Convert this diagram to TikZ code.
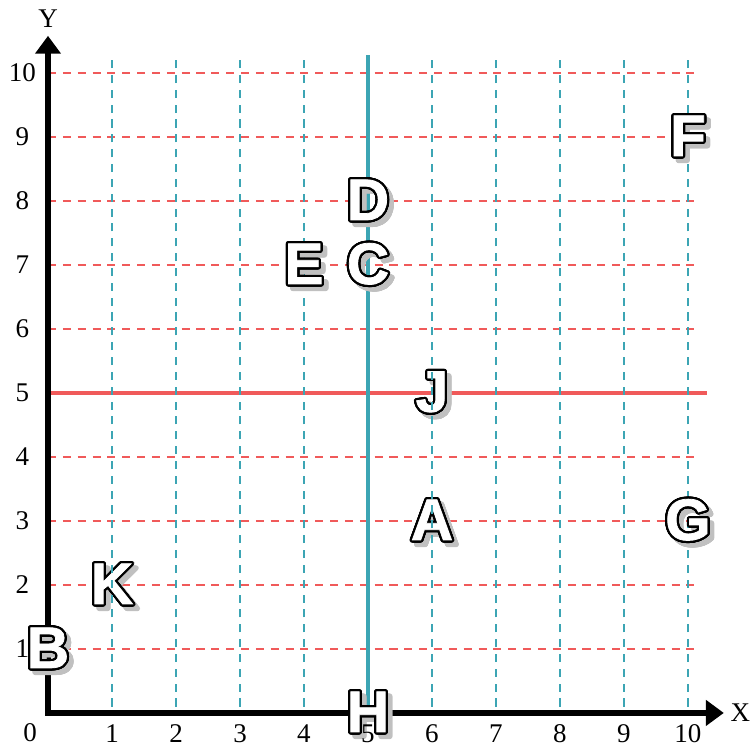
\documentclass[tikz,border=0pt]{standalone}
\usepackage{fontspec}
\setmainfont{Liberation Serif}
\newfontfamily\letterfont{Liberation Sans Bold}[FakeBold=1.3]
\usepackage{contour}
\contourlength{1pt}
\contournumber{24}
\usetikzlibrary{arrows.meta}
\definecolor{gridred}{HTML}{F05A5A}
\definecolor{gridteal}{HTML}{3CA5B4}
\definecolor{shadowgray}{HTML}{C0C0C0}
\tikzset{
  hgrid/.style={draw=gridred, line width=0.7pt, dash pattern=on 3.6pt off 3pt},
  vgrid/.style={draw=gridteal, line width=0.7pt, dash pattern=on 3.6pt off 3pt},
  hsolid/.style={draw=gridred, line width=1.4pt},
  vsolid/.style={draw=gridteal, line width=1.4pt},
  axisline/.style={draw=black, line width=2.7pt, miter limit=10,
    {Triangle[length=0.28cm,width=0.39cm]}-{Triangle[length=0.28cm,width=0.39cm]}},
  letterbox/.style={font=\letterfont\fontsize{26}{26}\selectfont, inner sep=0pt},
  ticklabel/.style={font=\fontsize{12}{14}\selectfont, inner sep=0pt},
}
\newcommand\bigletter[3]{%
  \node[letterbox, xshift=2pt, yshift=-2pt] (#1s) at (#2) {\contour{shadowgray}{\textcolor{shadowgray}{#3}}};
  \node[letterbox] (#1) at (#2) {\contour{black}{\textcolor{white}{#3}}};
}
\begin{document}
\begin{tikzpicture}
\useasboundingbox (-0.75,-0.531) rectangle (11.016,11.14);
% horizontal grid
\foreach \y in {1,2,3,4,6,7,8,9,10} {
  \coordinate (hl\y) at (0,\y);
  \coordinate (hr\y) at (10.17,\y);
  \draw[hgrid] (hl\y) -- (hr\y);
}
\coordinate (hl5) at (0,5);
\coordinate (hr5) at (10.3,5);
\draw[hsolid] (hl5) -- (hr5);
% letters under vertical lines
\bigletter{K}{1,2}{K}
\bigletter{J}{6,5}{J}
\bigletter{A}{6,3}{A}
% vertical grid
\foreach \x in {1,2,3,4,6,7,8,9,10} {
  \coordinate (vb\x) at (\x,0.1);
  \coordinate (vt\x) at (\x,10.28);
  \draw[vgrid] (vb\x) -- (vt\x);
}
\coordinate (vb5) at (5,0);
\coordinate (vt5) at (5,10.28);
\draw[vsolid] (vb5) -- (vt5);
% axes
\coordinate (O) at (0,0);
\coordinate (ytip) at (0,10.58);
\coordinate (xtip) at (10.56,0);
\draw[axisline] (ytip) -- (O) -- (xtip);
% other letters
\bigletter{B}{0,1}{B}
\bigletter{C}{5,7}{C}
\bigletter{D}{5,8}{D}
\bigletter{E}{4,7}{E}
\bigletter{F}{10,9}{F}
\bigletter{G}{10,3}{G}
\bigletter{H}{5,0}{H}
% labels
\node[ticklabel] (ylabel) at (0,10.85) {Y};
\node[ticklabel] (xlabel) at (10.82,0) {X};
\node[ticklabel] (zero) at (-0.28,-0.31) {0};
\foreach \i in {1,...,10} {
  \node[ticklabel] (xt\i) at (\i,-0.33) {\i};
  \node[ticklabel] (yt\i) at (-0.4,\i) {\i};
}
\end{tikzpicture}
\end{document}
